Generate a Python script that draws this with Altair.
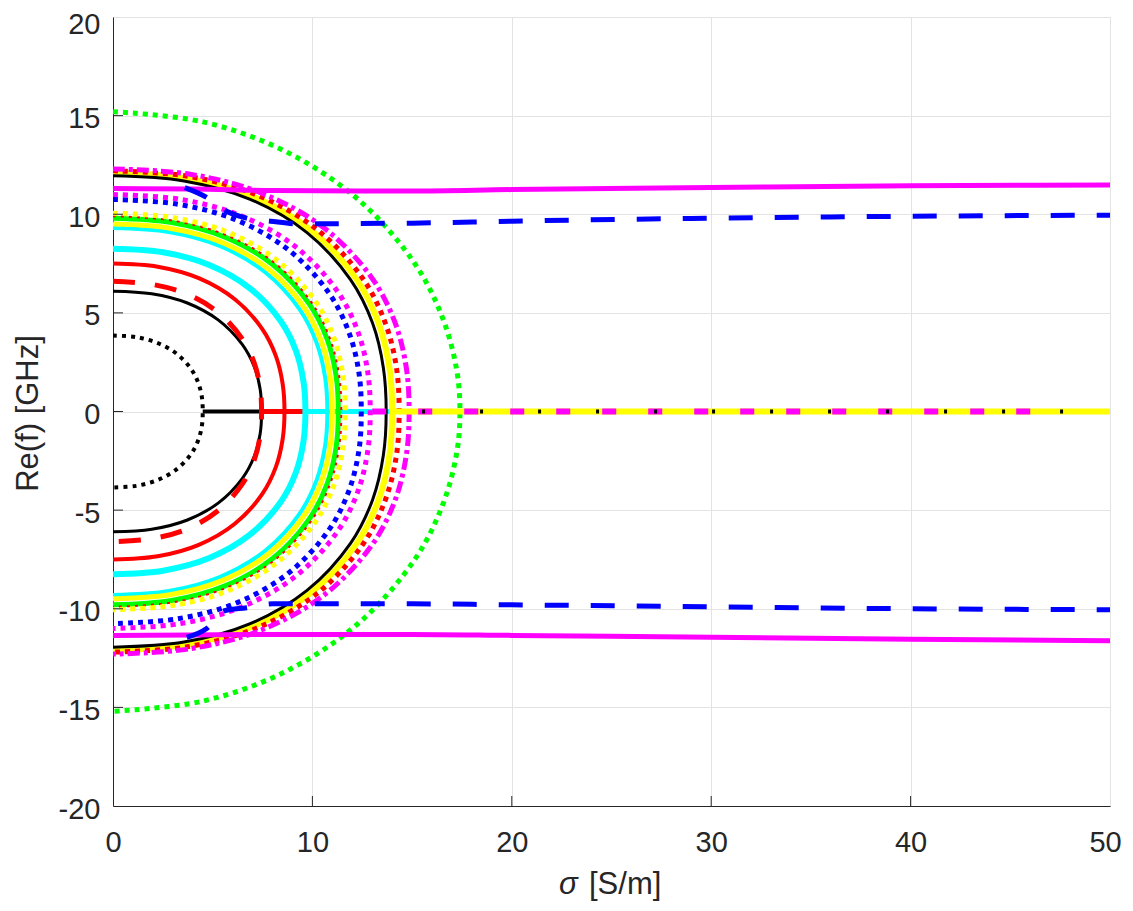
import altair as alt
import pandas as pd

# ---------------- data (upper quarter of each arc) ----------------
BLACK_DOT_S = [0, 1.17, 2.25, 3.20, 3.92, 4.28, 4.46, 4.5]
BLACK_DOT_F = [3.85, 3.77, 3.47, 2.92, 2.15, 1.44, 0.71, 0]
BLACK_IN_S = [0, 1.94, 3.73, 5.29, 6.48, 7.08, 7.38, 7.45]
BLACK_IN_F = [6.1, 5.97, 5.50, 4.63, 3.40, 2.28, 1.13, 0]
RED_DASH_S = [0, 1.94, 3.73, 5.29, 6.48, 7.08, 7.38, 7.45]
RED_DASH_F = [6.6, 6.45, 5.95, 5.01, 3.68, 2.47, 1.22, 0]
RED_IN_S = [0, 2.24, 4.30, 6.11, 7.48, 8.17, 8.51, 8.6]
RED_IN_F = [7.5, 7.34, 6.76, 5.69, 4.19, 2.81, 1.39, 0]
CYAN_A_S = [0, 2.51, 4.83, 6.85, 8.40, 9.17, 9.55, 9.65]
CYAN_A_F = [8.25, 8.07, 7.43, 6.26, 4.60, 3.09, 1.53, 0]
CYAN_B_S = [0, 2.80, 5.38, 7.63, 9.35, 10.21, 10.64, 10.75]
CYAN_B_F = [9.3, 9.10, 8.38, 7.06, 5.19, 3.48, 1.72, 0]
YELLOW_IN_S = [0, 2.86, 5.50, 7.81, 9.57, 10.45, 10.89, 11.0]
YELLOW_IN_F = [9.5, 9.29, 8.56, 7.21, 5.30, 3.55, 1.76, 0]
GREEN_IN_S = [0, 2.94, 5.65, 8.02, 9.83, 10.74, 11.19, 11.3]
GREEN_IN_F = [9.8, 9.58, 8.83, 7.44, 5.47, 3.67, 1.81, 0]
RED_DOT_IN_S = [0, 2.98, 5.73, 8.13, 9.96, 10.88, 11.34, 11.45]
RED_DOT_IN_F = [9.9, 9.68, 8.92, 7.51, 5.52, 3.70, 1.83, 0]
YELLOW_DOT_S = [0, 3.03, 5.83, 8.27, 10.14, 11.07, 11.53, 11.65]
YELLOW_DOT_F = [10.05, 9.83, 9.06, 7.63, 5.61, 3.76, 1.86, 0]
BLUE_DOT_S = [0, 3.24, 6.23, 8.84, 10.83, 11.83, 12.33, 12.45]
BLUE_DOT_F = [10.75, 10.51, 9.69, 8.16, 6.00, 4.02, 1.99, 0]
MAG_DOT_S = [0, 3.35, 6.45, 9.16, 11.22, 12.26, 12.77, 12.9]
MAG_DOT_F = [11.0, 10.76, 9.91, 8.35, 6.14, 4.11, 2.04, 0]
BLACK_OUT_S = [0, 3.56, 6.85, 9.73, 11.92, 13.02, 13.56, 13.7]
BLACK_OUT_F = [11.95, 11.69, 10.77, 9.07, 6.67, 4.47, 2.21, 0]
YELLOW_OUT_S = [0, 3.64, 7.00, 9.94, 12.18, 13.30, 13.86, 14.0]
YELLOW_OUT_F = [12.1, 11.83, 10.90, 9.18, 6.75, 4.53, 2.24, 0]
RED_DOT_OUT_S = [0, 3.73, 7.18, 10.19, 12.48, 13.63, 14.21, 14.35]
RED_DOT_OUT_F = [12.2, 11.93, 10.99, 9.26, 6.81, 4.56, 2.26, 0]
MAG_OUT_S = [0, 3.86, 7.43, 10.54, 12.92, 14.11, 14.70, 14.85]
MAG_OUT_F = [12.3, 12.03, 11.08, 9.34, 6.86, 4.60, 2.28, 0]
GREEN_BIG_S = [0, 4.52, 8.70, 12.35, 15.14, 16.53, 17.23, 17.4]
GREEN_BIG_F = [15.2, 14.68, 13.16, 10.70, 7.49, 4.74, 2.14, 0]

# branches that stay away from zero
MAG_LINE_UP_S = [0, 4, 8, 15, 20, 30, 40, 50]
MAG_LINE_UP_F = [11.3, 11.28, 11.2, 11.18, 11.25, 11.35, 11.45, 11.48]
MAG_LINE_LO_S = [0, 4, 8, 15, 20, 30, 40, 50]
MAG_LINE_LO_F = [-11.35, -11.33, -11.3, -11.3, -11.35, -11.45, -11.55, -11.62]
BLUE_LINE_UP_S = [3.6, 4.7, 5.6, 6.7, 7.9, 9.2, 15, 20, 30, 40, 50]
BLUE_LINE_UP_F = [11.35, 10.85, 10.2, 9.8, 9.65, 9.52, 9.55, 9.65, 9.8, 9.9, 9.95]
BLUE_LINE_LO_S = [3.7, 4.7, 5.6, 6.7, 8.0, 15, 20, 30, 40, 50]
BLUE_LINE_LO_F = [-11.45, -11.0, -10.1, -9.95, -9.75, -9.75, -9.8, -9.9, -10.0, -10.05]

# zero-frequency (overdamped) segments: start, end
ZERO_BLACK = [4.5, 50]
ZERO_RED = [7.45, 50]
ZERO_CYAN = [9.65, 50]
ZERO_YELLOW = [14.0, 50]
ZERO_MAG = [13.0, 46]
ZERO_BLACK_DOTS = [15.5, 48]

X_TICKS = [0, 10, 20, 30, 40, 50]
Y_TICKS = [-20, -15, -10, -5, 0, 5, 10, 15, 20]
X_TITLE_SYMBOL = ["σ"]
X_TITLE_UNIT = ["[S/m]"]

W, H = 997, 789
FONT = "Liberation Sans"
TXT = "#262626"

xs = alt.Scale(domain=[0, 50], nice=False)
ys = alt.Scale(domain=[-20, 20], nice=False)


def enc_x():
    return alt.X("s:Q", scale=xs, axis=alt.Axis(
        values=X_TICKS, title=None, labelExpr="'' + datum.value",
        labelOffset={"condition": {"test": "datum.value == 50", "value": -5}, "value": 0}))


def enc_y():
    return alt.Y("f:Q", scale=ys, axis=alt.Axis(
        values=Y_TICKS, title="Re(f) [GHz]", labelExpr="'' + datum.value",
        labelOffset={"condition": {"test": "datum.value == 20", "value": 7}, "value": 3}))


def arc(S, F, color, width, dash=None, interp="catmull-rom"):
    s = list(S) + list(S[-2::-1])
    f = list(F) + [-v for v in F[-2::-1]]
    df = pd.DataFrame({"s": s, "f": f, "i": list(range(len(s)))})
    kw = dict(color=color, strokeWidth=width, interpolate=interp, clip=True, strokeCap="butt")
    if dash:
        kw["strokeDash"] = dash
    return alt.Chart(df).mark_line(**kw).encode(x=enc_x(), y=enc_y(), order="i:Q")


def path(S, F, color, width, dash=None):
    df = pd.DataFrame({"s": S, "f": F, "i": list(range(len(S)))})
    kw = dict(color=color, strokeWidth=width, interpolate="monotone", clip=True, strokeCap="butt")
    if dash:
        kw["strokeDash"] = dash
    return alt.Chart(df).mark_line(**kw).encode(x=enc_x(), y=enc_y(), order="i:Q")


def zero(seg, color, width, dash=None):
    return path(seg, [0, 0], color, width, dash)


DOT = [5, 5]
layers = [
    zero(ZERO_BLACK, "#000000", 4),
    zero(ZERO_RED, "#ff0000", 5),
    zero(ZERO_CYAN, "#00ffff", 5),
    arc(BLACK_DOT_S, BLACK_DOT_F, "#000000", 4, [4, 5]),
    arc(BLACK_IN_S, BLACK_IN_F, "#000000", 3),
    arc(RED_DASH_S, RED_DASH_F, "#ff0000", 5, [22, 20]),
    arc(RED_IN_S, RED_IN_F, "#ff0000", 4),
    arc(CYAN_A_S, CYAN_A_F, "#00ffff", 6),
    arc(CYAN_B_S, CYAN_B_F, "#00ffff", 4),
    arc(YELLOW_IN_S, YELLOW_IN_F, "#ffff00", 5),
    arc(GREEN_IN_S, GREEN_IN_F, "#00ff00", 5),
    arc(RED_DOT_IN_S, RED_DOT_IN_F, "#ff0000", 2, [3, 5]),
    arc(YELLOW_DOT_S, YELLOW_DOT_F, "#ffff00", 5, DOT),
    arc(BLUE_DOT_S, BLUE_DOT_F, "#0000ff", 5, DOT),
    arc(MAG_DOT_S, MAG_DOT_F, "#ff00ff", 5, DOT),
    arc(YELLOW_OUT_S, YELLOW_OUT_F, "#ffff00", 6),
    arc(BLACK_OUT_S, BLACK_OUT_F, "#000000", 3),
    arc(RED_DOT_OUT_S, RED_DOT_OUT_F, "#ff0000", 5, DOT),
    arc(MAG_OUT_S, MAG_OUT_F, "#ff00ff", 5, [12, 4, 4, 4]),
    arc(GREEN_BIG_S, GREEN_BIG_F, "#00ff00", 5, DOT),
    path(MAG_LINE_UP_S, MAG_LINE_UP_F, "#ff00ff", 5),
    path(MAG_LINE_LO_S, MAG_LINE_LO_F, "#ff00ff", 5),
    path(BLUE_LINE_UP_S, BLUE_LINE_UP_F, "#0000ff", 5, [24, 22]),
    path(BLUE_LINE_LO_S, BLUE_LINE_LO_F, "#0000ff", 5, [24, 22]),
    zero(ZERO_YELLOW, "#ffff00", 6),
    zero(ZERO_MAG, "#ff00ff", 6, [14, 32]),
    zero(ZERO_BLACK_DOTS, "#000000", 4, [3, 55]),
]

# inward ticks (MATLAB style)
ytick_df = pd.DataFrame({"f": Y_TICKS[1:-1]})
xtick_df = pd.DataFrame({"s": X_TICKS[1:-1]})
yticks = alt.Chart(ytick_df).mark_rule(color=TXT, strokeWidth=1).encode(
    y=enc_y(), x=alt.value(0), x2=alt.value(10))
xticks = alt.Chart(xtick_df).mark_rule(color=TXT, strokeWidth=1).encode(
    x=enc_x(), y=alt.value(H), y2=alt.value(H - 10))

# x-axis title: italic sigma + unit
sym = alt.Chart(pd.DataFrame({"t": X_TITLE_SYMBOL})).mark_text(
    font=FONT, fontSize=31, fontStyle="italic", color=TXT, align="left", baseline="middle"
).encode(text="t:N", x=alt.value(446), y=alt.value(868))
unit = alt.Chart(pd.DataFrame({"t": X_TITLE_UNIT})).mark_text(
    font=FONT, fontSize=31, color=TXT, align="left", baseline="middle"
).encode(text="t:N", x=alt.value(476), y=alt.value(868))

chart = alt.layer(*layers, yticks, xticks, sym, unit).properties(
    width=W, height=H,
    autosize=alt.AutoSizeParams(type="none"),
    padding={"left": 105, "top": 9, "right": 15, "bottom": 105},
).configure_view(
    stroke="#dcdcdc", strokeWidth=1
).configure_axis(
    grid=True, gridColor="#e3e3e3", gridWidth=1,
    domainColor=TXT, domainWidth=1, ticks=False, labelFlush=False,
    labelFont=FONT, labelFontSize=29, labelColor=TXT,
    titleFont=FONT, titleFontSize=31, titleColor=TXT, titleFontWeight="normal",
).configure_axisX(
    labelPadding=22,
).configure_axisY(
    labelPadding=13,
    titleX=-85, titleY=396, titleAngle=270, titleAlign="center", titleBaseline="middle",
)

chart.save("out.html", embed_options={"renderer": "svg", "actions": False})
